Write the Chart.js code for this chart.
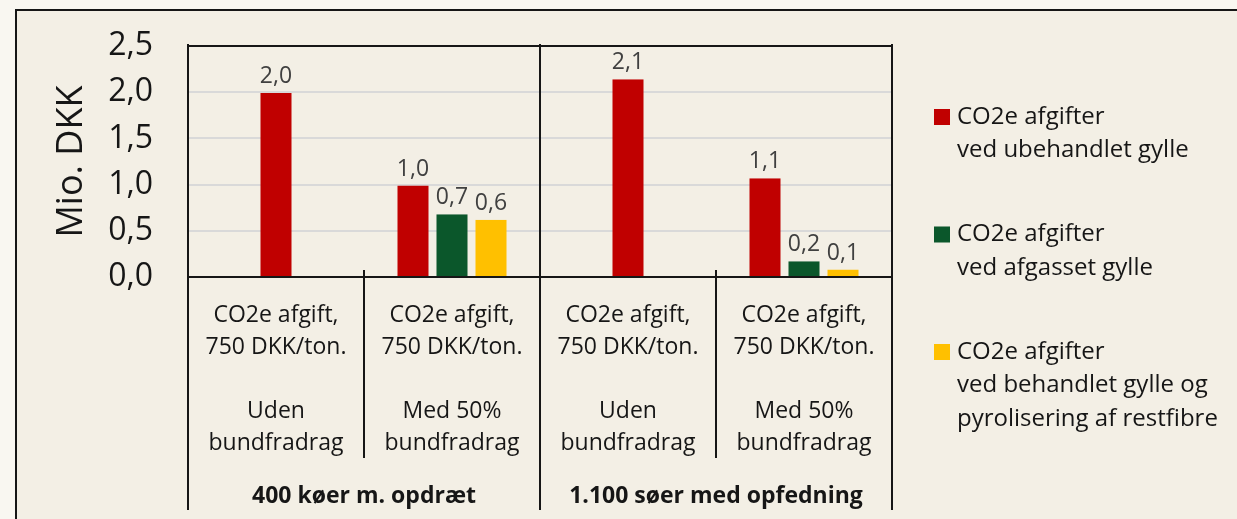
<!DOCTYPE html>
<html>
<head>
<meta charset="utf-8">
<script src="https://cdn.jsdelivr.net/npm/chart.js@4.4.1/dist/chart.umd.min.js"></script>
<style>
  html, body { margin: 0; padding: 0; }
  body { width: 1237px; height: 519px; background: #F9F7F1; position: relative; overflow: hidden; }
  #frame { position: absolute; left: 15px; top: 9px; right: 0; bottom: 0; background: #F3EFE5;
           border-left: 2px solid #161616; border-top: 2px solid #161616; }
  #wrap { position: absolute; left: 0; top: 0; width: 1237px; height: 519px; }
</style>
</head>
<body>
<div id="frame"></div>
<div id="wrap"><canvas id="afgiftChart"></canvas></div>
<script>
// Data
const categoryLabels = [
    ['CO2e afgift,', '750 DKK/ton.', '', 'Uden', 'bundfradrag'],
    ['CO2e afgift,', '750 DKK/ton.', '', 'Med 50%', 'bundfradrag'],
    ['CO2e afgift,', '750 DKK/ton.', '', 'Uden', 'bundfradrag'],
    ['CO2e afgift,', '750 DKK/ton.', '', 'Med 50%', 'bundfradrag']
];
const groupLabels = ['400 køer m. opdræt', '1.100 søer med opfedning'];
const categoryGroup = [0, 0, 1, 1];

const seriesNames = [
    ['CO2e afgifter', 'ved ubehandlet gylle'],
    ['CO2e afgifter', 'ved afgasset gylle'],
    ['CO2e afgifter', 'ved behandlet gylle og', 'pyrolisering af restfibre']
];
const ubehandletValues = [1.99, 0.99, 2.14, 1.07];
const afgassetValues = [null, 0.68, null, 0.17];
const pyroliseringValues = [null, 0.62, null, 0.08];
const yTicks = [0, 0.5, 1.0, 1.5, 2.0, 2.5];

const seriesColors = ['#C00000', '#0B572B', '#FFC000'];
const inkColor = '#161616';
const fontFamily = '"Open Sans", Lato, sans-serif';

// Danish decimal comma
function formatComma(v) {
    return v.toFixed(1).replace('.', ',');
}

// Value labels above every bar
const barValueLabels = {
    id: 'barValueLabels',
    afterDatasetsDraw(chart) {
        const ctx = chart.ctx;
        ctx.save();
        ctx.font = '23px ' + fontFamily;
        ctx.fillStyle = '#404040';
        ctx.textAlign = 'center';
        ctx.textBaseline = 'alphabetic';
        chart.data.datasets.forEach((ds, i) => {
            const meta = chart.getDatasetMeta(i);
            meta.data.forEach((bar, j) => {
                const v = ds.data[j];
                if (v === null || v === undefined) return;
                ctx.fillText(formatComma(v), bar.x, bar.y - 10);
            });
        });
        ctx.restore();
    }
};

// Plot frame and category separators, taken from the x scale
const frameLines = {
    id: 'frameLines',
    afterDatasetsDraw(chart) {
        const { ctx, chartArea: ca, scales: { x, x2 } } = chart;
        const n = chart.data.labels.length;
        const bounds = [];
        for (let i = 0; i <= n; i++) {
            if (i === 0) bounds.push(ca.left);
            else if (i === n) bounds.push(ca.right);
            else bounds.push((x.getPixelForValue(i - 1) + x.getPixelForValue(i)) / 2);
        }
        ctx.save();
        ctx.strokeStyle = inkColor;
        ctx.lineWidth = 2;
        ctx.beginPath();
        ctx.moveTo(ca.left, ca.top); ctx.lineTo(ca.right, ca.top);
        ctx.moveTo(ca.left, ca.bottom); ctx.lineTo(ca.right, ca.bottom);
        bounds.forEach((bx, i) => {
            const groupEdge = i === 0 || i === n || categoryGroup[i] !== categoryGroup[i - 1];
            if (groupEdge) {
                ctx.moveTo(bx, ca.top - 2);
                ctx.lineTo(bx, x2.bottom - 9);
            } else {
                ctx.moveTo(bx, ca.bottom - 7);
                ctx.lineTo(bx, x.bottom - 3);
            }
        });
        ctx.stroke();
        ctx.restore();
    }
};

// Legend on the right, with multi-line entries
const sideLegend = {
    id: 'sideLegend',
    afterDraw(chart) {
        const { ctx, chartArea: ca } = chart;
        const x0 = ca.right + 42;
        ctx.save();
        ctx.font = '24px ' + fontFamily;
        ctx.textBaseline = 'middle';
        ctx.textAlign = 'left';
        chart.data.datasets.forEach((ds, i) => {
            const y0 = ca.top + 71 + i * 117.5;
            ctx.fillStyle = ds.backgroundColor;
            ctx.fillRect(x0, y0 - 8, 16, 16);
            ctx.fillStyle = inkColor;
            seriesNames[i].forEach((line, k) => ctx.fillText(line, x0 + 23, y0 + k * 33.5));
        });
        ctx.restore();
    }
};

const barStyle = {
    skipNull: true,
    barThickness: 39,
    borderWidth: { left: 4, right: 4, top: 0, bottom: 0 },
    borderColor: 'rgba(0,0,0,0)',
    inflateAmount: 0
};

// no extra label padding around the plot, so the layout padding alone sets it
function noSidePadding(s) {
    s.paddingLeft = 0;
    s.paddingRight = 0;
}

const afgiftChart = new Chart(document.getElementById('afgiftChart'), {
    type: 'bar',
    data: {
        labels: categoryLabels,
        datasets: [
            { label: seriesNames[0].join(' '), data: ubehandletValues, backgroundColor: seriesColors[0], ...barStyle },
            { label: seriesNames[1].join(' '), data: afgassetValues, backgroundColor: seriesColors[1], ...barStyle },
            { label: seriesNames[2].join(' '), data: pyroliseringValues, backgroundColor: seriesColors[2], ...barStyle }
        ]
    },
    options: {
        responsive: true,
        maintainAspectRatio: false,
        animation: false,
        layout: { padding: { left: 0, top: 46, right: 345, bottom: 0 } },
        plugins: {
            legend: { display: false },
            tooltip: { enabled: false }
        },
        scales: {
            x: {
                type: 'category',
                position: 'bottom',
                weight: 0,
                grid: { display: false },
                border: { display: false },
                ticks: {
                    color: inkColor,
                    font: { family: fontFamily, size: 23, lineHeight: '32px' },
                    padding: 14,
                    maxRotation: 0,
                    autoSkip: false
                },
                afterFit: (s) => { s.height = 184; noSidePadding(s); }
            },
            x2: {
                type: 'category',
                position: 'bottom',
                weight: 1,
                labels: groupLabels,
                offset: true,
                grid: { display: false },
                border: { display: false },
                ticks: {
                    color: inkColor,
                    font: { family: fontFamily, size: 23, weight: 'bold', lineHeight: 1.2 },
                    padding: 14,
                    maxRotation: 0,
                    autoSkip: false
                },
                afterFit: (s) => { s.height = 58; noSidePadding(s); }
            },
            y: {
                min: 0,
                max: 2.5,
                afterBuildTicks: (s) => { s.ticks = yTicks.map(v => ({ value: v })); },
                grid: { color: '#D9D9D9', lineWidth: 2, drawTicks: false },
                border: { display: false },
                ticks: {
                    color: inkColor,
                    font: { family: fontFamily, size: 32 },
                    padding: 35,
                    callback: (v) => formatComma(v)
                },
                title: {
                    display: true,
                    text: 'Mio. DKK',
                    color: inkColor,
                    font: { family: fontFamily, size: 36, lineHeight: 1.2 },
                    padding: { top: 50, bottom: 0 }
                },
                afterFit: (s) => {
                    s.width = 188;
                    s.paddingTop = 0;
                    s.paddingBottom = 0;
                }
            }
        }
    },
    plugins: [frameLines, barValueLabels, sideLegend]
});
</script>
</body>
</html>
